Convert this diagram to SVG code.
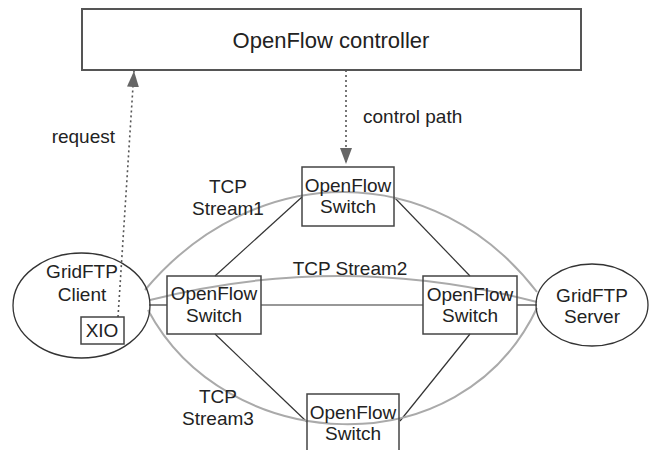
<svg xmlns="http://www.w3.org/2000/svg" width="653" height="450" viewBox="0 0 653 450">
<style>
text{font-family:"Liberation Sans",Arial,sans-serif;fill:#222;text-anchor:middle}
.t{font-size:19px}
.box{fill:#fff;stroke:#444;stroke-width:1.5}
.link{stroke:#333;stroke-width:1.2;fill:none}
.stream{stroke:#aaa;stroke-width:2;fill:none}
.ctl{stroke:#555;stroke-width:1.6;stroke-dasharray:2 3;fill:none}
</style>
<defs>
<marker id="ah" viewBox="0 0 16 12" refX="16" refY="6" markerWidth="16" markerHeight="12" markerUnits="userSpaceOnUse" orient="auto">
<path d="M0,0 L16,6 L0,12 Z" fill="#666"/>
</marker>
</defs>
<g id="controller">
<rect x="82" y="9" width="499" height="61" fill="#fff" stroke="#555" stroke-width="2"/>
<text x="331" y="48" style="font-size:22px">OpenFlow controller</text>
</g>
<g id="connectors">
<path class="link" d="M215,276 L302,197"/>
<path class="link" d="M394,197 L470,276"/>
<path class="link" d="M215,334 L307,422"/>
<path class="link" d="M470,334 L400,421"/>
<path class="link" d="M261,305 L423,305"/>
<path class="link" d="M149,305 L167,305"/>
<path class="link" d="M517,305 L537,305"/>
<path class="stream" d="M145,290 C255,159 435,159 537,292"/>
<path class="stream" d="M150,300 Q343,251 537,302"/>
<path class="stream" d="M148,310 C225,455 460,470 537,308"/>
<path class="ctl" d="M118,317 L134,71" marker-end="url(#ah)"/>
<path class="ctl" d="M346,70 L346,164" marker-end="url(#ah)"/>
</g>
<text class="t" x="363" y="123" style="text-anchor:start">control path</text>
<text class="t" x="115" y="143" style="text-anchor:end">request</text>
<text class="t" x="228" y="193">TCP</text>
<text class="t" x="228" y="215">Stream1</text>
<text class="t" x="350" y="275">TCP Stream2</text>
<text class="t" x="218" y="403">TCP</text>
<text class="t" x="218" y="425">Stream3</text>
<g id="client">
<ellipse cx="81.5" cy="305.5" rx="68.5" ry="52.5" fill="none" stroke="#333" stroke-width="1.3"/>
<text class="t" x="82" y="278">GridFTP</text>
<text class="t" x="82" y="301">Client</text>
</g>
<g id="xio">
<rect class="box" x="81" y="317" width="43" height="27"/>
<text class="t" x="102" y="337">XIO</text>
</g>
<g id="server">
<ellipse cx="592" cy="305" rx="56" ry="41" fill="none" stroke="#333" stroke-width="1.3"/>
<text class="t" x="592" y="302">GridFTP</text>
<text class="t" x="592" y="323">Server</text>
</g>
<g id="switch-top">
<rect class="box" x="302" y="167" width="92" height="59" fill-opacity="0"/>
<text class="t" x="348" y="192">OpenFlow</text>
<text class="t" x="348" y="213">Switch</text>
</g>
<g id="switch-left">
<rect class="box" x="167" y="276" width="94" height="58" fill-opacity="0"/>
<text class="t" x="214" y="300">OpenFlow</text>
<text class="t" x="214" y="322">Switch</text>
</g>
<g id="switch-right">
<rect class="box" x="423" y="276" width="94" height="58" fill-opacity="0"/>
<text class="t" x="470" y="301">OpenFlow</text>
<text class="t" x="470" y="322">Switch</text>
</g>
<g id="switch-bottom">
<rect class="box" x="307" y="394" width="92" height="70" fill-opacity="0"/>
<text class="t" x="353" y="419">OpenFlow</text>
<text class="t" x="353" y="440">Switch</text>
</g>
</svg>
